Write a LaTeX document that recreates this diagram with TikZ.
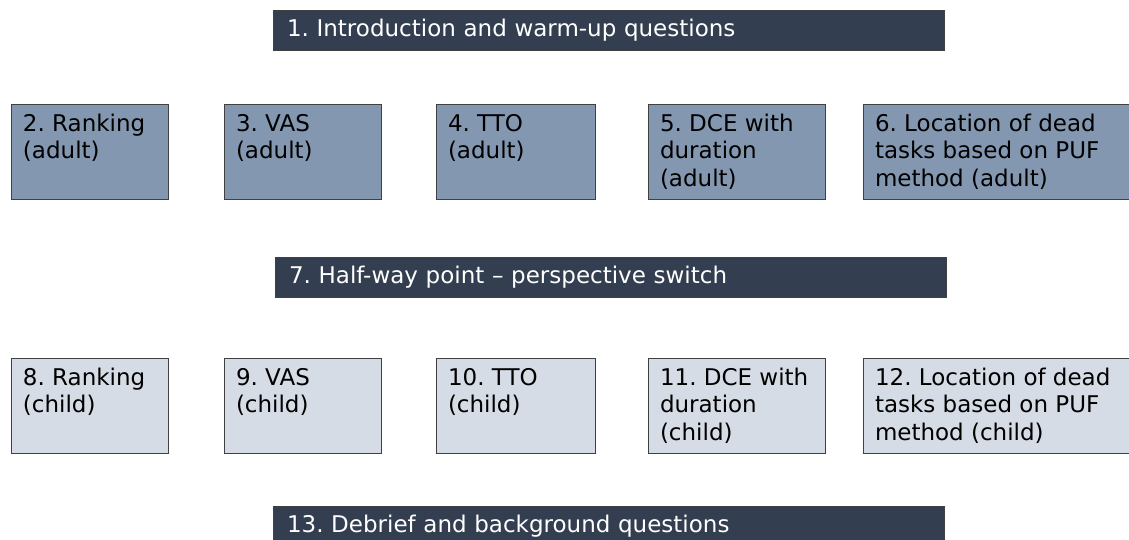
\documentclass[tikz,border=0pt]{standalone}
\usepackage{fontspec}
\setmainfont{DejaVu Sans}
\usetikzlibrary{positioning}
\frenchspacing

\newcommand{\stagetext}[2]{\parbox[c][75pt][t]{#1}{\raggedright #2}}

\begin{document}
\begin{tikzpicture}[x=1pt,y=1pt]
    \definecolor{drk}{HTML}{333F50}
    \definecolor{mid}{HTML}{8497B0}
    \definecolor{lgt}{HTML}{D6DCE5}

    \useasboundingbox (0,0) rectangle (1129,-540);

    \begin{scope}[
        every node/.style={draw=black!75,line width=0.8pt,fill=drk,text=white,
            anchor=north west,minimum height=40pt,text width=643pt,
            inner xsep=14pt,inner ysep=0pt,outer sep=0pt,align=left,
            font=\fontsize{23}{27.5}\selectfont}
    ]
        \node (s1)  at (273,-10)  {1. Introduction and warm-up questions};
        \node (s7)  at (275,-257) {7. Half-way point – perspective switch};
        \node (s13) at (273,-506) {13. Debrief and background questions};
    \end{scope}

    % adult perspective
    \begin{scope}[
        every node/.style={draw=black!75,line width=0.8pt,fill=mid,
            inner xsep=12pt,inner ysep=10pt,outer sep=0pt,
            font=\fontsize{23}{27.5}\selectfont}
    ]
        \node (a2) [anchor=north west] at (11,-104) {\stagetext{133pt}{2. Ranking\\(adult)}};
        \node (a3) [right=56pt of a2] {\stagetext{133pt}{3. VAS\\(adult)}};
        \node (a4) [right=55pt of a3] {\stagetext{135pt}{4. TTO\\(adult)}};
        \node (a5) [right=53pt of a4] {\stagetext{153pt}{5. DCE with\\duration\\(adult)}};
        \node (a6) [right=38pt of a5] {\stagetext{246pt}{6. Location of dead\\tasks based on PUF\\method (adult)}};
    \end{scope}

    % child perspective
    \begin{scope}[
        every node/.style={draw=black!75,line width=0.8pt,fill=lgt,
            inner xsep=12pt,inner ysep=10pt,outer sep=0pt,
            font=\fontsize{23}{27.5}\selectfont}
    ]
        \node (c8)  [anchor=north west] at (11,-358) {\stagetext{133pt}{8. Ranking\\(child)}};
        \node (c9)  [right=56pt of c8]  {\stagetext{133pt}{9. VAS\\(child)}};
        \node (c10) [right=55pt of c9]  {\stagetext{135pt}{10. TTO\\(child)}};
        \node (c11) [right=53pt of c10] {\stagetext{153pt}{11. DCE with\\duration\\(child)}};
        \node (c12) [right=38pt of c11] {\stagetext{246pt}{12. Location of dead\\tasks based on PUF\\method (child)}};
    \end{scope}
\end{tikzpicture}
\end{document}
